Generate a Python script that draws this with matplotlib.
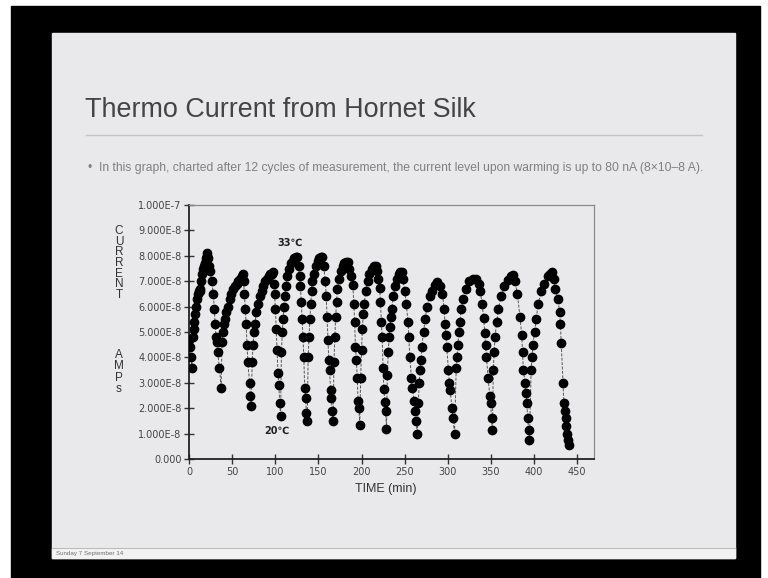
import matplotlib
matplotlib.use("Agg")
import matplotlib.pyplot as plt
from matplotlib.patches import Rectangle
from matplotlib.lines import Line2D

W, H = 768, 578

# ---- data (time in min, current in units of 1e-8 A) ----
time_min = [
    0, 1, 2, 3, 4, 5, 6, 7, 8, 9, 10, 11, 12, 13, 14, 15, 16, 17, 18, 19, 20, 21,
    22, 23, 24, 26, 28, 29, 30, 31, 32, 33, 35, 37,
    38, 39, 40, 41, 43, 45, 47, 49, 51, 53, 55, 57, 59, 61, 62,
    63, 64, 65, 66, 67, 68, 70, 71, 72,
    73, 74, 75, 76, 78, 80, 82, 84, 86, 88, 90, 92, 94, 96, 97,
    98, 99, 100, 101, 102, 103, 104, 105, 106,
    107, 108, 109, 110, 111, 112, 114, 116, 118, 120, 122, 124, 125,
    127, 128, 129, 130, 131, 132, 133, 134, 135, 136, 137,
    138, 139, 140, 141, 142, 143, 145, 147, 149, 151, 153, 154,
    156, 158, 159, 160, 161, 162, 163, 164, 165, 166, 167,
    168, 169, 170, 171, 172, 174, 176, 178, 180, 182, 184,
    186, 188, 190, 191, 192, 193, 194, 195, 196, 197, 198,
    199, 200, 201, 202, 203, 205, 207, 209, 212, 215, 217,
    218, 219, 221, 222, 223, 224, 225, 226, 227, 228, 229,
    230, 231, 232, 233, 234, 235, 237, 239, 241, 243, 245, 247,
    248, 250, 252, 254, 255, 256, 258, 259, 261, 262, 263, 265,
    266, 267, 268, 269, 270, 272, 274, 276, 279, 282, 285, 288,
    291, 294, 296, 297, 298, 299, 301, 302, 303, 305, 306, 308,
    310, 311, 312, 313, 314, 316, 318, 321, 325, 329, 333,
    336, 338, 340, 342, 343, 344, 345, 347, 349, 350, 351, 352,
    353, 354, 355, 357, 359, 362, 366, 370, 374, 376,
    378, 381, 384, 386, 387, 388, 390, 391, 392, 393, 394, 395,
    397, 398, 399, 401, 403, 405, 409, 412, 416, 419, 421,
    423, 425, 428, 430, 431, 432, 434, 435, 436, 437, 438, 439, 440, 441,
]
current_e8 = [
    4.7, 4.4, 4.0, 3.6, 4.8, 5.1, 5.4, 5.7, 6.0, 6.3, 6.5, 6.6, 6.6, 6.7, 7.0, 7.3, 7.5, 7.6, 7.7, 7.9, 8.0, 8.1,
    7.9, 7.6, 7.4, 7.0, 6.5, 5.9, 5.3, 4.8, 4.6, 4.2, 3.6, 2.8,
    4.6, 5.0, 5.3, 5.5, 5.8, 6.0, 6.3, 6.5, 6.7, 6.8, 6.9, 7.0, 7.1, 7.2, 7.3,
    7.0, 6.5, 5.9, 5.3, 4.5, 3.8, 3.0, 2.5, 2.1,
    3.8, 4.5, 5.0, 5.3, 5.8, 6.1, 6.4, 6.6, 6.8, 7.0, 7.1, 7.2, 7.3, 7.3, 7.35,
    6.9, 6.5, 5.9, 5.1, 4.3, 3.4, 2.9, 2.2, 1.7,
    4.2, 5.0, 5.5, 6.0, 6.4, 6.8, 7.2, 7.5, 7.7, 7.8, 7.9, 7.95, 7.95,
    7.6, 7.2, 6.8, 6.2, 5.5, 4.8, 4.0, 2.8, 2.4, 1.8, 1.5,
    4.0, 4.8, 5.5, 6.1, 6.6, 7.0, 7.3, 7.6, 7.8, 7.9, 7.95, 7.95,
    7.6, 7.0, 6.4, 5.6, 4.7, 3.9, 3.5, 2.7, 2.4, 1.9, 1.5,
    3.8, 4.8, 5.6, 6.2, 6.7, 7.1, 7.4, 7.6, 7.7, 7.75, 7.75,
    7.5, 7.2, 6.85, 6.1, 5.4, 4.4, 3.9, 3.2, 2.3, 2.0, 1.35,
    3.2, 4.3, 5.1, 5.7, 6.1, 6.6, 7.0, 7.3, 7.5, 7.6, 7.6,
    7.4, 7.1, 6.75, 6.2, 5.4, 4.8, 3.6, 2.75, 2.25, 1.9, 1.2,
    3.3, 4.2, 4.8, 5.2, 5.6, 5.9, 6.4, 6.8, 7.1, 7.3, 7.35, 7.35,
    7.1, 6.6, 6.1, 5.4, 4.8, 4.0, 3.2, 2.8, 2.3, 1.9, 1.5, 1.0,
    2.2, 3.0, 3.5, 3.9, 4.4, 5.0, 5.5, 6.0, 6.4, 6.6, 6.85, 6.95,
    6.8, 6.5, 5.9, 5.3, 4.9, 4.4, 3.5, 3.0, 2.7, 2.0, 1.6, 1.0,
    3.6, 4.0, 4.5, 5.0, 5.4, 5.9, 6.3, 6.7, 7.0, 7.1, 7.1,
    6.9, 6.6, 6.1, 5.55, 4.95, 4.5, 4.0, 3.2, 2.5, 2.2, 1.6, 1.15,
    3.5, 4.2, 4.8, 5.4, 5.9, 6.4, 6.8, 7.05, 7.2, 7.25,
    7.0, 6.5, 5.6, 4.9, 4.2, 3.5, 3.0, 2.6, 2.2, 1.6, 1.15, 0.75,
    3.5, 4.0, 4.5, 5.0, 5.5, 6.1, 6.6, 6.9, 7.2, 7.3, 7.35,
    7.1, 6.7, 6.3, 5.8, 5.3, 4.55, 3.0, 2.2, 1.9, 1.6, 1.3, 1.0, 0.75, 0.55,
]
assert len(time_min) == len(current_e8)

x_ticks = [0, 50, 100, 150, 200, 250, 300, 350, 400, 450]
y_ticks = [0, 1e-8, 2e-8, 3e-8, 4e-8, 5e-8, 6e-8, 7e-8, 8e-8, 9e-8, 1e-7]
y_tick_labels = ["0.000", "1.000E-8", "2.000E-8", "3.000E-8", "4.000E-8", "5.000E-8",
                 "6.000E-8", "7.000E-8", "8.000E-8", "9.000E-8", "1.000E-7"]

title = "Thermo Current from Hornet Silk"
bullet = ("\u2022  In this graph, charted after 12 cycles of measurement, the current level "
          "upon warming is up to 80 nA (8\u00d710\u20138 A).")
footer = "Sunday 7 September 14"


def fx(px):
    return px / W


def fy(py):
    return 1 - py / H


fig = plt.figure(figsize=(W / 100, H / 100), dpi=100, facecolor="white")

# black screen + slide
fig.patches.append(Rectangle((fx(11), 0), fx(760) - fx(11), fy(6), transform=fig.transFigure,
                             color="black", zorder=0))
fig.patches.append(Rectangle((fx(52), fy(558)), fx(735) - fx(52), fy(33) - fy(558),
                             transform=fig.transFigure, color="#e9e9eb", zorder=1))
fig.patches.append(Rectangle((fx(52), fy(558)), fx(735) - fx(52), fy(548) - fy(558),
                             transform=fig.transFigure, color="#f2f2f2", zorder=2))
fig.lines.append(Line2D([fx(52), fx(735)], [fy(548), fy(548)], transform=fig.transFigure,
                        color="#bcbcbc", lw=0.8, zorder=3))
fig.lines.append(Line2D([fx(86), fx(702)], [fy(135), fy(135)], transform=fig.transFigure,
                        color="#c4c4c4", lw=1.0, zorder=3))

fig.text(fx(85), fy(117), title, fontsize=19.4, color="#444444", family="Liberation Sans",
         va="baseline", ha="left", zorder=4)
fig.text(fx(88), fy(168), bullet, fontsize=8.7, color="#808080", family="Liberation Sans",
         va="center", ha="left", zorder=4)
fig.text(fx(56), fy(553), footer, fontsize=4.5, color="#707070", family="Liberation Sans",
         va="center", ha="left", zorder=4)

# chart
ax = fig.add_axes([fx(189.3), fy(459), fx(594) - fx(189.3), fy(205) - fy(459)])
ax.set_zorder(5)
ax.set_facecolor("none")
ax.plot(time_min, [v * 1e-8 for v in current_e8], color="#555555", lw=0.7,
        linestyle=(0, (3, 1.5)), marker="o", ms=6, mfc="black", mec="black", zorder=3)
ax.set_xlim(0, 470)
ax.set_ylim(0, 1e-7)
ax.set_xticks(x_ticks)
ax.set_xticklabels([str(v) for v in x_ticks])
ax.set_yticks(y_ticks)
ax.set_yticklabels(y_tick_labels)
ax.tick_params(direction="inout", length=7, width=1, color="#333333",
               labelsize=7, labelcolor="#444444", pad=2)
for lab in ax.get_xticklabels() + ax.get_yticklabels():
    lab.set_family("DejaVu Sans")
for s in ("left", "bottom"):
    ax.spines[s].set_color("#222222")
    ax.spines[s].set_linewidth(1.3)
for s in ("top", "right"):
    ax.spines[s].set_color("#8a8a8a")
    ax.spines[s].set_linewidth(0.9)

ax.text(117, 8.5e-8, "33\u2103", ha="center", va="center", fontsize=7, weight="bold",
        family="DejaVu Sans", color="#222222")
ax.text(102, 1.1e-8, "20\u2103", ha="center", va="center", fontsize=7, weight="bold",
        family="DejaVu Sans", color="#222222")

# stacked y label, one letter per line
fig.text(fx(119), fy(263), "\n".join("CURRENT"), fontsize=8.5, color="#333333",
         family="Liberation Sans", ha="center", va="center", multialignment="center",
         linespacing=0.86, zorder=6)
fig.text(fx(119), fy(372), "\n".join("AMPs"), fontsize=8.5, color="#333333",
         family="Liberation Sans", ha="center", va="center", multialignment="center",
         linespacing=0.95, zorder=6)
fig.text(fx(386), fy(489), "TIME (min)", fontsize=9, color="#333333",
         family="Liberation Sans", ha="center", va="center", zorder=6)

fig.savefig("out.png", dpi=100, facecolor=fig.get_facecolor())
